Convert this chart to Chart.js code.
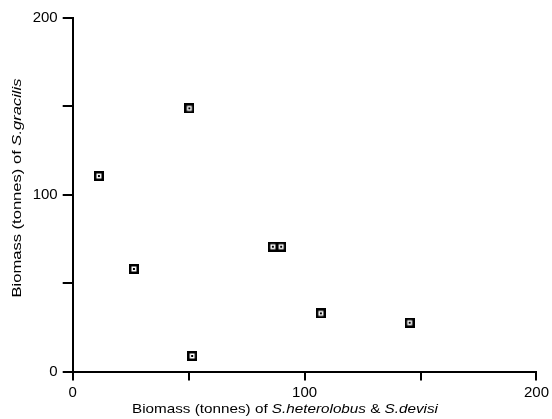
<!DOCTYPE html>
<html>
<head>
<meta charset="utf-8">
<script src="https://cdn.jsdelivr.net/npm/chart.js@4.4.1/dist/chart.umd.min.js"></script>
<style>
  html, body { margin: 0; padding: 0; background: #fff; }
  #wrap { width: 552px; height: 419px; position: relative; }
</style>
</head>
<body>
<div id="wrap"><canvas id="biomasse"></canvas></div>
<script>
// biomasse (tonnes) par site
let biomasseHeterolobus = [11.3, 26.4, 50.3, 51.5, 86.3, 89.9, 107, 145.3];
let biomasseGracilis = [110.6, 58, 148.9, 8.8, 70.6, 70.6, 32.9, 27.6];
let ticksAxes = [0, 100, 200];

// titres des axes : texte normal puis nom d'espèce en italique
let titreX = [['Biomass (tonnes) of ', false], ['S.heterolobus', true], [' & ', false], ['S.devisi', true]];
let titreY = [['Biomass (tonnes) of ', false], ['S.gracilis', true]];

// marqueur : carré noir épais, petit fond blanc, point au centre
function creerMarqueur() {
    let c = document.createElement('canvas');
    c.width = 10;
    c.height = 10;
    let g = c.getContext('2d');
    g.fillStyle = '#000';
    g.fillRect(0, 0, 10, 10);
    g.fillStyle = '#fff';
    g.fillRect(2.5, 2.5, 5, 5);
    g.fillStyle = '#000';
    g.fillRect(4, 4, 2, 2);
    return c;
}

function ecrireTitre(ctx, morceaux, taille, largeurVoulue) {
    let police = function(italique) {
        return (italique ? 'italic ' : '') + taille + 'px "Liberation Sans", Arial, sans-serif';
    };
    let total = 0;
    morceaux.forEach(function(m) {
        ctx.font = police(m[1]);
        total += ctx.measureText(m[0]).width;
    });
    let echelle = largeurVoulue / total;
    ctx.scale(echelle, 1);
    let x = -total / 2;
    morceaux.forEach(function(m) {
        ctx.font = police(m[1]);
        ctx.fillText(m[0], x, 0);
        x += ctx.measureText(m[0]).width;
    });
}

let titresAxes = {
    id: 'titresAxes',
    afterDraw: function(chart) {
        let ctx = chart.ctx;
        ctx.save();
        ctx.fillStyle = '#000';
        ctx.textBaseline = 'alphabetic';
        ctx.textAlign = 'left';
        ctx.translate(285, 413);
        ecrireTitre(ctx, titreX, 13, 306);
        ctx.restore();

        ctx.save();
        ctx.fillStyle = '#000';
        ctx.textBaseline = 'alphabetic';
        ctx.textAlign = 'left';
        ctx.translate(21, 188);
        ctx.rotate(-Math.PI / 2);
        ecrireTitre(ctx, titreY, 13, 219);
        ctx.restore();
    }
};

let points = biomasseHeterolobus.map(function(x, i) {
    return { x: x, y: biomasseGracilis[i] };
});

let ctx = document.getElementById('biomasse').getContext('2d');
let monGraphique = new Chart(ctx, {
    type: 'scatter',
    data: {
        datasets: [{
            data: points,
            pointStyle: creerMarqueur(),
            pointRadius: 5,
            pointHoverRadius: 5
        }]
    },
    options: {
        responsive: true,
        maintainAspectRatio: false,
        animation: false,
        layout: { padding: { top: 18, right: 12, left: 0, bottom: 0 } },
        plugins: {
            legend: { display: false },
            tooltip: { enabled: false }
        },
        scales: {
            x: {
                type: 'linear',
                min: 0,
                max: 200,
                afterFit: function(scale) { scale.height = 47.5; },
                border: { color: '#000', width: 2 },
                grid: { drawOnChartArea: false, drawTicks: true, tickLength: 9, color: '#000', lineWidth: 2 },
                ticks: {
                    stepSize: 50,
                    maxRotation: 0,
                    padding: 3,
                    color: '#000',
                    font: { family: '"Liberation Sans", Arial, sans-serif', size: 15 },
                    callback: function(v) { return ticksAxes.includes(v) ? String(v) : ''; }
                }
            },
            y: {
                type: 'linear',
                min: 0,
                max: 200,
                afterFit: function(scale) { scale.width = 72.7; },
                border: { color: '#000', width: 2 },
                grid: { drawOnChartArea: false, drawTicks: true, tickLength: 10, color: '#000', lineWidth: 2 },
                ticks: {
                    stepSize: 50,
                    padding: 5,
                    color: '#000',
                    font: { family: '"Liberation Sans", Arial, sans-serif', size: 15 },
                    callback: function(v) { return ticksAxes.includes(v) ? String(v) : ''; }
                }
            }
        }
    },
    plugins: [titresAxes]
});
</script>
</body>
</html>
